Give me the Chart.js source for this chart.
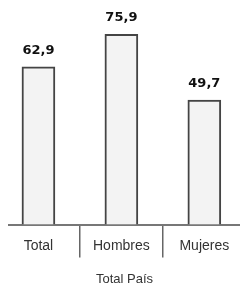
<!DOCTYPE html>
<html>
<head>
<meta charset="utf-8">
<script src="https://cdn.jsdelivr.net/npm/chart.js@4"></script>
<style>
  html, body { margin: 0; padding: 0; background: #fff; }
  #wrap { position: relative; width: 240px; height: 291px; }
</style>
</head>
<body>
<div id="wrap"><canvas id="c"></canvas></div>
<script>
const categories = ["Total", "Hombres", "Mujeres"];
const values = [62.9, 75.9, 49.7];
const valueLabels = ["62,9", "75,9", "49,7"];
const axisTitle = "Total País";

const labelPlugin = {
  id: 'valueLabels',
  afterDatasetsDraw(chart) {
    const ctx = chart.ctx;
    const meta = chart.getDatasetMeta(0);
    ctx.save();
    ctx.font = 'bold 13px "DejaVu Sans"';
    ctx.fillStyle = '#111';
    ctx.textAlign = 'center';
    ctx.textBaseline = 'bottom';
    meta.data.forEach((el, i) => {
      ctx.fillText(valueLabels[i], el.x, el.y - 10);
    });
    ctx.restore();
  }
};

new Chart(document.getElementById('c'), {
  type: 'bar',
  data: {
    datasets: [{
      data: values.map((v, i) => ({ x: i, y: v })),
      backgroundColor: '#f3f3f3',
      borderColor: '#444',
      borderWidth: 2,
      borderSkipped: 'bottom',
      barThickness: 33
    }]
  },
  options: {
    responsive: true,
    maintainAspectRatio: false,
    animation: false,
    events: [],
    layout: { padding: { left: 9, right: 0, top: 14, bottom: 0 } },
    plugins: { legend: { display: false }, tooltip: { enabled: false } },
    scales: {
      x: {
        type: 'linear',
        offset: false,
        min: -0.355,
        max: 2.43,
        afterBuildTicks(scale) {
          scale.ticks = [0, 0.5, 1, 1.5, 2].map(v => ({ value: v }));
        },
        grid: {
          offset: false,
          drawOnChartArea: false,
          drawTicks: true,
          tickLength: 33,
          lineWidth: 1.5,
          color: (c) => (c.tick && c.tick.value % 1 !== 0) ? '#666' : 'rgba(0,0,0,0)'
        },
        border: { display: true, color: '#777', width: 2 },
        ticks: {
          autoSkip: false,
          maxRotation: 0,
          padding: -20,
          color: '#333',
          font: { family: '"Liberation Sans", Arial, sans-serif', size: 14 },
          callback: (v) => Number.isInteger(v) ? categories[v] : ''
        },
        title: {
          display: true,
          text: axisTitle,
          color: '#333',
          font: { family: '"Liberation Sans", Arial, sans-serif', size: 13 },
          padding: { top: 37, bottom: 4 }
        }
      },
      y: { display: false, min: 0, max: 84 }
    }
  },
  plugins: [labelPlugin]
});
</script>
</body>
</html>
